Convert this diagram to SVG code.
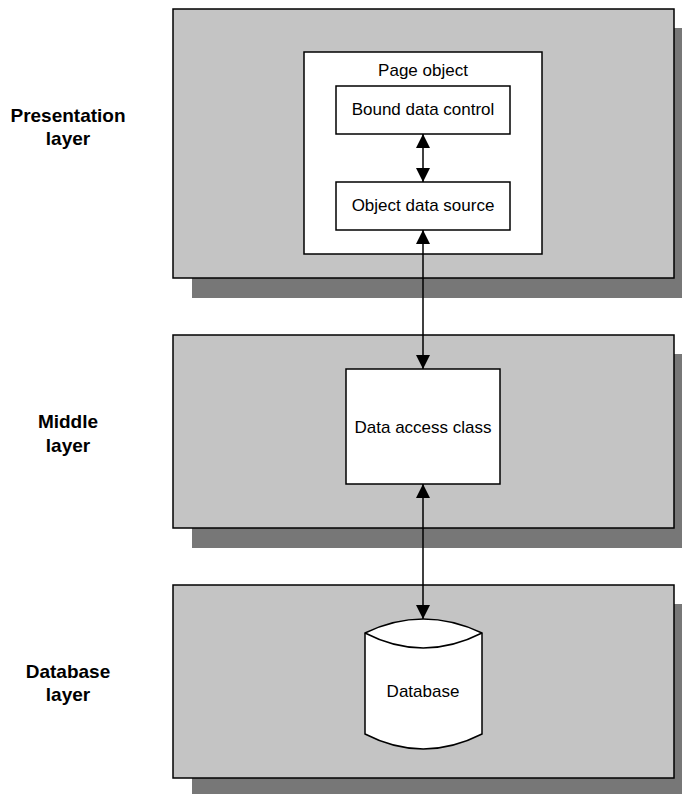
<svg xmlns="http://www.w3.org/2000/svg" width="682" height="794" viewBox="0 0 682 794">
<defs>
<style>
.shadow{fill:#777777;stroke:none}
.panel{fill:#c4c4c4;stroke:#000;stroke-width:1.5}
.box{fill:#fff;stroke:#000;stroke-width:1.5}
.lbl{font-family:"Liberation Sans",Arial,sans-serif;font-size:17px;fill:#000;text-anchor:middle}
.layer{font-family:"Liberation Sans",Arial,sans-serif;font-size:19px;font-weight:bold;fill:#000;text-anchor:middle}
.conn{stroke:#000;stroke-width:1.5;fill:none;marker-start:url(#ah);marker-end:url(#ah)}
</style>
<marker id="ah" viewBox="0 0 14 14" refX="14" refY="7" markerWidth="14" markerHeight="14" markerUnits="userSpaceOnUse" orient="auto-start-reverse">
<path d="M0,0 L14,7 L0,14 Z" fill="#000"/>
</marker>
</defs>
<g id="presentation-layer">
<rect class="shadow" x="192" y="28" width="500" height="270"/>
<rect class="panel" x="173" y="9" width="501" height="269"/>
<text class="layer" x="68" y="122">Presentation</text>
<text class="layer" x="68" y="145">layer</text>
</g>
<g id="middle-layer">
<rect class="shadow" x="192" y="354" width="500" height="194"/>
<rect class="panel" x="173" y="335" width="501" height="193"/>
<text class="layer" x="68" y="428">Middle</text>
<text class="layer" x="68" y="452">layer</text>
</g>
<g id="database-layer">
<rect class="shadow" x="192" y="604" width="500" height="194"/>
<rect class="panel" x="173" y="585" width="501" height="193"/>
<text class="layer" x="68" y="678">Database</text>
<text class="layer" x="68" y="701">layer</text>
</g>
<g id="page-object">
<rect class="box" x="304" y="52" width="238" height="202"/>
<text class="lbl" x="423" y="76">Page object</text>
</g>
<g id="bound-data-control">
<rect class="box" x="336" y="86" width="174" height="48"/>
<text class="lbl" x="423" y="115">Bound data control</text>
</g>
<g id="object-data-source">
<rect class="box" x="336" y="182" width="174" height="48"/>
<text class="lbl" x="423" y="211">Object data source</text>
</g>
<g id="data-access-class">
<rect class="box" x="346" y="369" width="154" height="115"/>
<text class="lbl" x="423" y="433">Data access class</text>
</g>
<g id="database">
<path class="box" d="M365,633 Q423,605 482,633 L482,734 Q423,764 365,734 Z"/>
<path d="M365,633 Q423,663 482,633" fill="none" stroke="#000" stroke-width="1.5"/>
<text class="lbl" x="423" y="697">Database</text>
</g>
<g id="connectors">
<line class="conn" x1="423" y1="134" x2="423" y2="182"/>
<line class="conn" x1="423" y1="230" x2="423" y2="369"/>
<line class="conn" x1="423" y1="484" x2="423" y2="619"/>
</g>
</svg>
